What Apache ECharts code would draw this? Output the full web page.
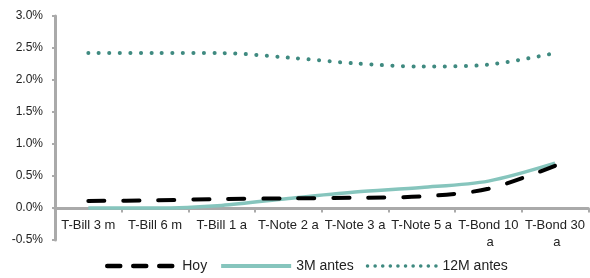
<!DOCTYPE html>
<html><head><meta charset="utf-8">
<script src="https://cdn.jsdelivr.net/npm/echarts@6/dist/echarts.min.js"></script>
<style>html,body{margin:0;padding:0;background:#fff}#c{width:590px;height:278px}</style>
</head><body><div id="c"></div>
<script>
var categories = ['T-Bill 3 m','T-Bill 6 m','T-Bill 1 a','T-Note 2 a','T-Note 3 a','T-Note 5 a','T-Bond 10 a','T-Bond 30 a'];
var hoy = [0.11, 0.12, 0.14, 0.15, 0.16, 0.18, 0.30, 0.66];
var m3 = [0.00, 0.00, 0.04, 0.15, 0.25, 0.32, 0.42, 0.70];
var m12 = [2.42, 2.42, 2.42, 2.35, 2.26, 2.21, 2.24, 2.42];
var seriesNames = ['Hoy','3M antes','12M antes'];
var yTicks = {min:-0.5, max:3.0, interval:0.5};

var chart = echarts.init(document.getElementById('c'));
var font = 'Liberation Sans, Arial, sans-serif';
var gridBottom = 38;
chart.setOption({
  animation:false,
  grid:{left:55,right:1,top:16,bottom:gridBottom},
  legend:{bottom:0,left:100,itemWidth:70,itemHeight:14,itemGap:12,
    itemStyle:{opacity:0},
    textStyle:{fontFamily:font,fontSize:14,color:'#222'},
    data:[
      {name:seriesNames[0],lineStyle:{color:'#000',width:4.5,type:[13,13],cap:'round'}},
      {name:seriesNames[1],lineStyle:{color:'#86c5bd',width:4}},
      {name:seriesNames[2],lineStyle:{color:'#3f8a80',width:3.5,type:[0.1,7.5],cap:'round'}}
    ]},
  xAxis:{type:'category',data:categories,boundaryGap:true,
    axisLine:{onZero:false,lineStyle:{color:'#aaaaaa',width:3}},
    axisTick:{show:true,length:4,lineStyle:{color:'#aaaaaa',width:2}},
    axisLabel:{interval:0,margin:8,fontFamily:font,fontSize:13,color:'#222',width:64,overflow:'break',lineHeight:17}},
  yAxis:{type:'value',min:yTicks.min,max:yTicks.max,interval:yTicks.interval,
    splitLine:{show:false},
    axisLine:{show:true,lineStyle:{color:'#aaaaaa',width:3}},
    axisTick:{show:true,length:3,lineStyle:{color:'#aaaaaa',width:2}},
    axisLabel:{margin:12,fontFamily:font,fontSize:12,color:'#222',formatter:function(v){return v.toFixed(1)+'%';}}},
  series:[
    {name:seriesNames[0],type:'line',data:hoy,smooth:0.3,showSymbol:false,symbol:'none',z:3,
      lineStyle:{color:'#000',width:4,type:[16,19],cap:'round'},itemStyle:{color:'#000'}},
    {name:seriesNames[1],type:'line',data:m3,smooth:0.3,showSymbol:false,symbol:'none',z:2,
      lineStyle:{color:'#86c5bd',width:3.5},itemStyle:{color:'#86c5bd'}},
    {name:seriesNames[2],type:'line',data:m12,smooth:0.3,showSymbol:false,symbol:'none',z:2,
      lineStyle:{color:'#3f8a80',width:4,type:[0.1,10.4],cap:'round'},itemStyle:{color:'#3f8a80'}}
  ]
});
// move the category axis up to the zero line (labels follow it)
var zeroY = chart.convertToPixel({yAxisIndex:0}, 0);
var bottomY = chart.convertToPixel({yAxisIndex:0}, yTicks.min);
chart.setOption({xAxis:{offset:-(bottomY - zeroY)}});
</script></body></html>
